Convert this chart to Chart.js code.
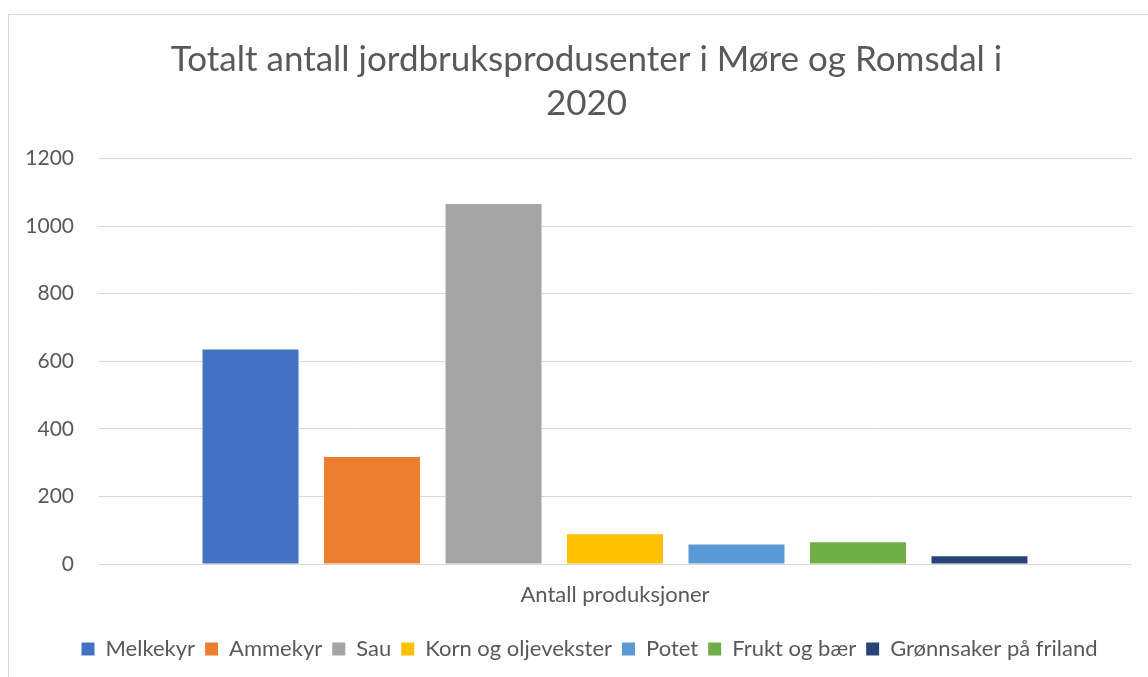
<!DOCTYPE html>
<html>
<head>
<meta charset="utf-8">
<script src="https://cdn.jsdelivr.net/npm/chart.js@4.4.0/dist/chart.umd.min.js"></script>
<style>
  body { margin: 0; background: #fff; }
  #wrap { position: absolute; left: 0; top: 0; width: 1148px; height: 677px; }
  #frame { position: absolute; left: 8px; top: 14px; width: 1200px; height: 700px;
           border-left: 1px solid #d9d9d9; border-top: 1px solid #d9d9d9; }
</style>
</head>
<body>
<div id="frame"></div>
<div id="wrap"><canvas id="chart" width="1148" height="677"></canvas></div>
<script>
// Chart data
const categories = ['Antall produksjoner'];
const seriesNames = ['Melkekyr', 'Ammekyr', 'Sau', 'Korn og oljevekster', 'Potet', 'Frukt og bær', 'Grønnsaker på friland'];
const seriesValues = [635, 317, 1065, 88, 58, 64, 23];
const seriesColors = ['#4472C4', '#ED7D31', '#A5A5A5', '#FFC000', '#5B9BD5', '#70AD47', '#264478'];
const yTicks = [0, 200, 400, 600, 800, 1000, 1200];

const fontFamily = 'Lato, "Open Sans", sans-serif';
const textColor = '#595959';

const datasets = seriesNames.map((name, i) => ({
    label: name,
    data: [seriesValues[i]],
    backgroundColor: seriesColors[i],
    borderWidth: 0
}));

// Title and legend sit a bit right of the canvas centre, like the original
const shiftBlocks = {
    id: 'shiftBlocks',
    afterLayout(chart) {
        chart.titleBlock.left = 41;
        chart.legend.left = 47;
    }
};

new Chart(document.getElementById('chart').getContext('2d'), {
    type: 'bar',
    data: { labels: categories, datasets: datasets },
    plugins: [shiftBlocks],
    options: {
        responsive: false,
        animation: false,
        layout: { padding: { left: 0, right: 16, top: 0, bottom: 7 } },
        datasets: { bar: { categoryPercentage: 0.8225, barPercentage: 0.79 } },
        plugins: {
            title: {
                display: true,
                text: ['Totalt antall jordbruksprodusenter i Møre og Romsdal i', '2020'],
                color: textColor,
                font: { family: fontFamily, size: 35, weight: 'normal', lineHeight: 1.25 },
                padding: { top: 38, bottom: 33 }
            },
            legend: {
                position: 'bottom',
                labels: {
                    color: textColor,
                    font: { family: fontFamily, size: 22 },
                    boxWidth: 13,
                    boxHeight: 13,
                    padding: 10
                }
            },
            tooltip: { enabled: false }
        },
        scales: {
            x: {
                grid: { display: false, drawTicks: false },
                border: { display: false },
                ticks: { color: textColor, font: { family: fontFamily, size: 22 }, padding: 18 },
                afterFit: (scale) => { scale.height = 64; }
            },
            y: {
                min: 0,
                max: 1200,
                afterBuildTicks: (scale) => { scale.ticks = yTicks.map(v => ({ value: v })); },
                grid: { color: '#d9d9d9', lineWidth: 1, drawTicks: false },
                border: { display: false },
                ticks: {
                    color: textColor,
                    font: { family: fontFamily, size: 21 },
                    padding: 24,
                    callback: (value) => String(value)
                },
                afterFit: (scale) => { scale.width = 98; }
            }
        }
    }
});
</script>
</body>
</html>
